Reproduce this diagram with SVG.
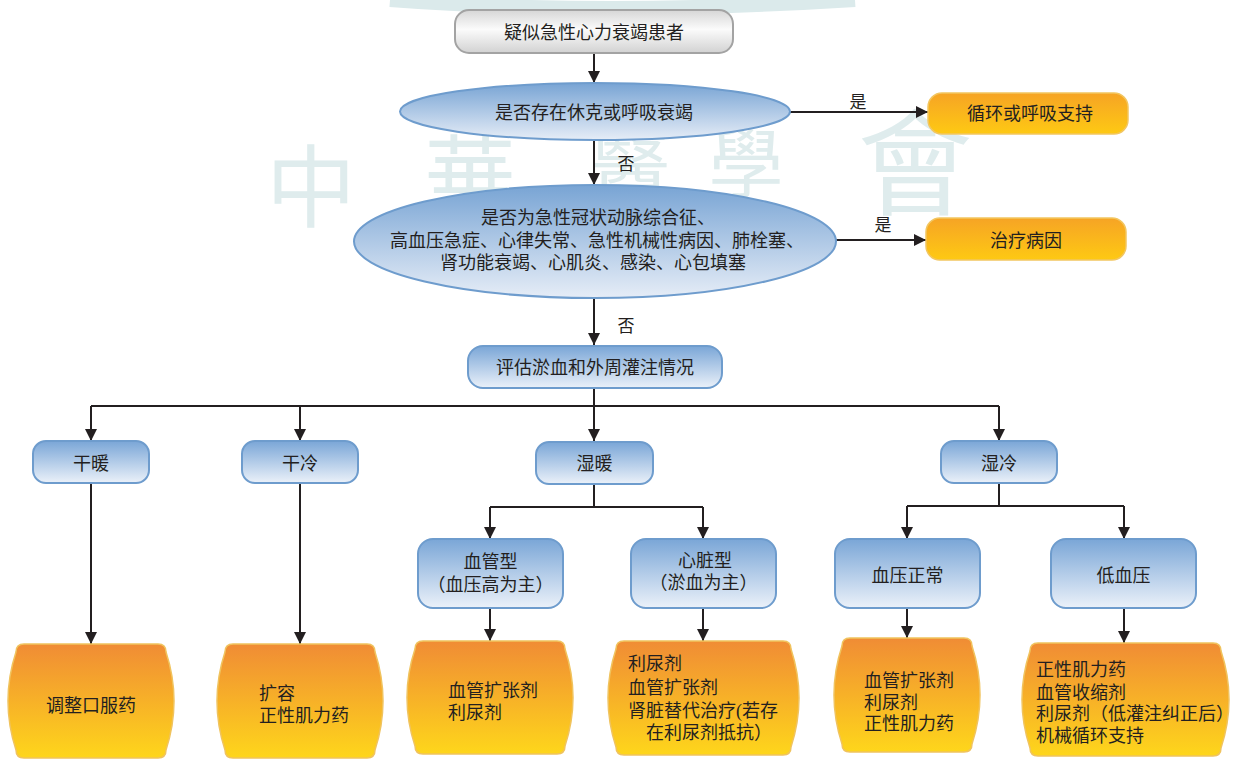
<svg xmlns="http://www.w3.org/2000/svg" width="1233" height="767" viewBox="0 0 1233 767">
<style>
text{font-family:"Liberation Serif","Noto Sans CJK SC",serif;font-size:18px;fill:#231f20}
.c{text-anchor:middle}
.lbl{font-size:17px}
.wm{fill:#dfeced;text-anchor:middle}
.blue{fill:url(#gBlue);stroke:#6e9ccd;stroke-width:2}
.ell{fill:url(#gEll);stroke:#6e9ccd;stroke-width:2}
.gray{fill:url(#gGray);stroke:#a3a3a3;stroke-width:2}
.org{fill:url(#gOrg);stroke:#f0c35e;stroke-width:1.5}
.yel{fill:url(#gYel);stroke:#f2c660;stroke-width:1.5}
.ln{fill:none;stroke:#231f20;stroke-width:2}
.ar{marker-end:url(#ah)}
</style>
<defs>
<linearGradient id="gBlue" x1="0" y1="0" x2="0" y2="1"><stop offset="0" stop-color="#7aa6d7"/><stop offset="1" stop-color="#ebf1f9"/></linearGradient>
<linearGradient id="gEll" x1="0" y1="0" x2="0" y2="1"><stop offset="0" stop-color="#78a4d4"/><stop offset="1" stop-color="#e6edf7"/></linearGradient>
<linearGradient id="gGray" x1="0" y1="0" x2="0" y2="1"><stop offset="0" stop-color="#d6d6d6"/><stop offset="0.45" stop-color="#fbfbfb"/><stop offset="1" stop-color="#d2d2d2"/></linearGradient>
<linearGradient id="gOrg" x1="0" y1="0" x2="0" y2="1"><stop offset="0" stop-color="#f08c35"/><stop offset="1" stop-color="#fed61b"/></linearGradient>
<linearGradient id="gYel" x1="0" y1="0" x2="0" y2="1"><stop offset="0" stop-color="#f6a425"/><stop offset="1" stop-color="#fec913"/></linearGradient>
<marker id="ah" markerWidth="13" markerHeight="13" refX="12" refY="6.5" orient="auto" markerUnits="userSpaceOnUse"><path d="M0,0.5 L12,6.5 L0,12.5 Z" fill="#231f20"/></marker>
</defs>

<g id="watermark">
<path d="M390,0 Q600,16 855,0" fill="none" stroke="#dbeaeb" stroke-width="14"/>
<text class="wm" x="311" y="220" style="font-size:90px">中</text>
<text class="wm" x="470" y="212" style="font-size:92px">華</text>
<text class="wm" x="630" y="191" style="font-size:80px">醫</text>
<text class="wm" x="746" y="192" style="font-size:75px">學</text>
<text class="wm" x="915" y="206" style="font-size:115px">會</text>
</g>

<g id="connectors">
<path class="ln ar" d="M594,53 V83"/>
<path class="ln ar" d="M790,112 H928"/>
<path class="ln ar" d="M594,140 V185"/>
<path class="ln ar" d="M836,240 H926"/>
<path class="ln ar" d="M594,298 V345"/>
<path class="ln ar" d="M594,388 V441"/>
<path class="ln" d="M91,406 H999"/>
<path class="ln ar" d="M91,406 V441"/>
<path class="ln ar" d="M300,406 V441"/>
<path class="ln ar" d="M999,406 V441"/>
<path class="ln ar" d="M91,483 V644"/>
<path class="ln ar" d="M300,483 V644"/>
<path class="ln" d="M594,484 V507 M490,507 H703"/>
<path class="ln ar" d="M490,507 V539"/>
<path class="ln ar" d="M703,507 V539"/>
<path class="ln" d="M999,484 V506 M907,506 H1124"/>
<path class="ln ar" d="M907,506 V539"/>
<path class="ln ar" d="M1124,506 V539"/>
<path class="ln ar" d="M490,608 V641"/>
<path class="ln ar" d="M703,608 V641"/>
<path class="ln ar" d="M907,608 V638"/>
<path class="ln ar" d="M1124,608 V643"/>
<text class="lbl c" x="858" y="107.5">是</text>
<text class="lbl c" x="626" y="169.5">否</text>
<text class="lbl c" x="883" y="231">是</text>
<text class="lbl c" x="626" y="331.5">否</text>
</g>

<g id="start">
<rect class="gray" x="455" y="10" width="278" height="43" rx="14"/>
<text class="c" x="594" y="39">疑似急性心力衰竭患者</text>
</g>
<g id="shock">
<ellipse class="ell" cx="595" cy="111.5" rx="195" ry="28.5"/>
<text class="c" x="594" y="119">是否存在休克或呼吸衰竭</text>
</g>
<g id="support">
<rect class="yel" x="928" y="93" width="200" height="41" rx="14"/>
<text class="c" x="1030" y="119.5">循环或呼吸支持</text>
</g>
<g id="cause">
<ellipse class="ell" cx="595" cy="241.5" rx="241" ry="56.5"/>
<text class="c" x="598" y="223.5">是否为急性冠状动脉综合征、</text>
<text class="c" x="597" y="246.5">高血压急症、心律失常、急性机械性病因、肺栓塞、</text>
<text class="c" x="593" y="268.5">肾功能衰竭、心肌炎、感染、心包填塞</text>
</g>
<g id="treat">
<rect class="yel" x="926" y="218" width="200" height="42" rx="14"/>
<text class="c" x="1026" y="246.5">治疗病因</text>
</g>
<g id="assess">
<rect class="blue" x="468" y="346" width="254" height="42" rx="15"/>
<text class="c" x="595" y="373.5">评估淤血和外周灌注情况</text>
</g>

<g id="dry-warm">
<rect class="blue" x="33" y="441" width="116" height="42" rx="13"/>
<text class="c" x="91" y="469.5">干暖</text>
</g>
<g id="dry-cold">
<rect class="blue" x="242" y="441" width="116" height="42" rx="13"/>
<text class="c" x="300" y="469.5">干冷</text>
</g>
<g id="wet-warm">
<rect class="blue" x="536" y="442" width="117" height="42" rx="13"/>
<text class="c" x="594.5" y="469.5">湿暖</text>
</g>
<g id="wet-cold">
<rect class="blue" x="941" y="441" width="116" height="42" rx="13"/>
<text class="c" x="999" y="469.5">湿冷</text>
</g>

<g id="vascular">
<rect class="blue" x="418" y="539" width="145" height="69" rx="15"/>
<text class="c" x="490.5" y="568">血管型</text>
<text class="c" x="490.5" y="591">（血压高为主）</text>
</g>
<g id="cardiac">
<rect class="blue" x="631" y="539" width="145" height="69" rx="15"/>
<text class="c" x="705" y="566.5">心脏型</text>
<text class="c" x="703.5" y="588.5">（淤血为主）</text>
</g>
<g id="bp-normal">
<rect class="blue" x="835" y="539" width="145" height="69" rx="15"/>
<text class="c" x="907.5" y="581.5">血压正常</text>
</g>
<g id="hypotension">
<rect class="blue" x="1051" y="539" width="145" height="69" rx="15"/>
<text class="c" x="1123.5" y="581.5">低血压</text>
</g>

<g id="oral">
<path class="org" d="M24,644 H158 Q166,644 166,652 Q182,701 166,750 Q166,758 158,758 H24 Q16,758 16,750 Q0,701 16,652 Q16,644 24,644 Z"/>
<text class="c" x="91" y="711.5">调整口服药</text>
</g>
<g id="volume">
<path class="org" d="M233,644 H367 Q375,644 375,652 Q391,701 375,750 Q375,758 367,758 H233 Q225,758 225,750 Q209,701 225,652 Q225,644 233,644 Z"/>
<text x="259" y="699.5">扩容</text>
<text x="259" y="721.5">正性肌力药</text>
</g>
<g id="vasodilator">
<path class="org" d="M423,641 H557 Q565,641 565,649 Q581,697.5 565,746 Q565,754 557,754 H423 Q415,754 415,746 Q399,697.5 415,649 Q415,641 423,641 Z"/>
<text x="448" y="696.5">血管扩张剂</text>
<text x="448" y="718.5">利尿剂</text>
</g>
<g id="diuretic">
<path class="org" d="M624,641 H783 Q791,641 791,649 Q807,698 791,747 Q791,755 783,755 H624 Q616,755 616,747 Q600,698 616,649 Q616,641 624,641 Z"/>
<text x="628" y="669.5">利尿剂</text>
<text x="628" y="693.5">血管扩张剂</text>
<text x="628" y="716.5">肾脏替代治疗(若存</text>
<text x="646" y="738.5">在利尿剂抵抗）</text>
</g>
<g id="normal-tx">
<path class="org" d="M850,638 H964 Q972,638 972,646 Q988,695 972,744 Q972,752 964,752 H850 Q842,752 842,744 Q826,695 842,646 Q842,638 850,638 Z"/>
<text x="864" y="686.5">血管扩张剂</text>
<text x="864" y="708.5">利尿剂</text>
<text x="864" y="729.5">正性肌力药</text>
</g>
<g id="hypo-tx">
<path class="org" d="M1038,643 H1213 Q1221,643 1221,651 Q1237,699.5 1221,748 Q1221,756 1213,756 H1038 Q1030,756 1030,748 Q1014,699.5 1030,651 Q1030,643 1038,643 Z"/>
<text x="1036" y="675.5">正性肌力药</text>
<text x="1036" y="698.5">血管收缩剂</text>
<text x="1036" y="719.5">利尿剂（低灌注纠正后）</text>
<text x="1036" y="741.5">机械循环支持</text>
</g>
</svg>
